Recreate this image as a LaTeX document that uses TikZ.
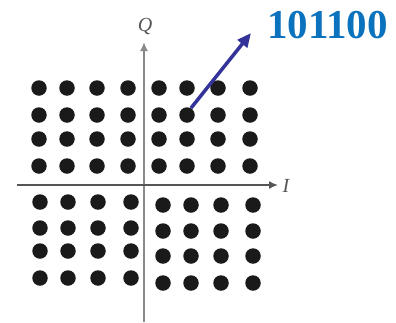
\documentclass[tikz,border=0pt]{standalone}
\usepackage{fontspec}
\setmainfont{Liberation Serif}
\usetikzlibrary{arrows.meta}
\definecolor{dotc}{HTML}{1A1A1A}
\definecolor{axv}{HTML}{8A8A8A}
\definecolor{axh}{HTML}{555555}
\definecolor{arrc}{HTML}{333399}
\definecolor{lblc}{HTML}{0B72BE}
\tikzset{
  pt/.style={circle,fill=dotc,inner sep=0pt,minimum size=15.5pt},
  axlbl/.style={text=axh,font=\fontsize{20}{20}\selectfont\itshape,inner sep=0pt},
}
\begin{document}
\begin{tikzpicture}[x=1pt,y=-1pt]
\useasboundingbox (0,0) rectangle (396,322);
% axes
\coordinate (vb) at (144,322);
\coordinate (vt) at (144,42);
\coordinate (hl) at (17,185);
\coordinate (hr) at (278,185);
\draw[axv,line width=2.8pt,-{Latex[length=9pt,width=8pt]}] (vb) -- (vt);
\draw[axh,line width=1.6pt,-{Latex[length=9pt,width=8pt]}] (hl) -- (hr);
\node[axlbl] (Q) at (145,26) {Q};
\node[axlbl] (I) at (286,186) {I};
% upper half
\foreach \x [count=\i] in {39,67,97,128,159,187,218,250}{
  \foreach \y [count=\j] in {88,115,139,166}{
    \node[pt] (u\j\i) at (\x,\y) {};
  }
}
% lower left
\foreach \x [count=\i] in {40,68,98,131}{
  \foreach \y [count=\j] in {202,228,251,278}{
    \node[pt] (l\j\i) at (\x,\y) {};
  }
}
% lower right
\foreach \x [count=\i] in {163,191,221,253}{
  \foreach \y [count=\j] in {205,231,256,283}{
    \node[pt] (r\j\i) at (\x,\y) {};
  }
}
\node[text=lblc,font=\fontsize{41}{41}\selectfont\bfseries,inner sep=0pt,anchor=base west] (lbl) at (267,38) {101100};
\coordinate (tip) at (251,33);
\draw[arrc,line width=3.5pt,-{Triangle[length=14pt,width=12pt]}] (u26.60) -- (tip);
\end{tikzpicture}
\end{document}
